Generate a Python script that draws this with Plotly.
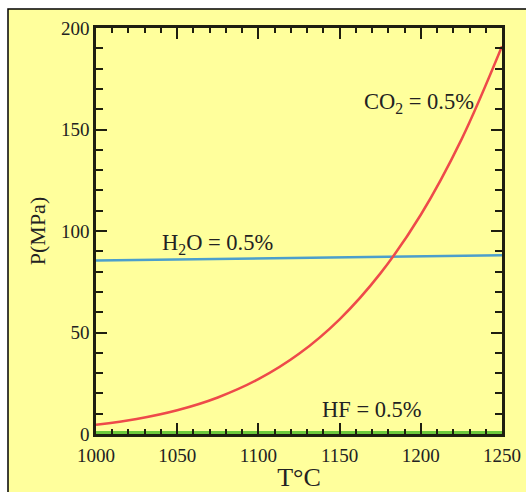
import plotly.graph_objects as go

# Data
temps = [1000, 1025, 1050, 1075, 1100, 1125, 1150, 1175, 1200, 1225, 1250]
co2_p = [4.5, 7.4, 11.7, 18, 27, 39.5, 56.5, 79, 108, 145, 191]
h2o_t = [1000, 1250]
h2o_p = [85.5, 88]
hf_t = [1000, 1250]
hf_p = [0.8, 0.8]

x_ticks = [1000, 1050, 1100, 1150, 1200, 1250]
y_ticks = [0, 50, 100, 150, 200]

labels = ["CO<sub>2</sub> = 0.5%", "H<sub>2</sub>O = 0.5%", "HF = 0.5%"]
label_x = [1199, 1075, 1170]
label_y = [163, 93.5, 12]

YELLOW = "#FFFF9C"
AXC = "#1E1E10"
FONT = "Liberation Serif"

fig = go.Figure()
fig.add_trace(go.Scatter(x=hf_t, y=hf_p, mode="lines",
                         line=dict(color="#6CC83C", width=3), showlegend=False))
fig.add_trace(go.Scatter(x=h2o_t, y=h2o_p, mode="lines",
                         line=dict(color="#4C9FCC", width=2.5), showlegend=False))
fig.add_trace(go.Scatter(x=temps, y=co2_p, mode="lines", line_shape="spline",
                         line=dict(color="#EE4A4A", width=2.5), showlegend=False))

for t, xx, yy in zip(labels, label_x, label_y):
    fig.add_annotation(x=xx, y=yy, text=t, showarrow=False,
                       font=dict(family=FONT, size=22.5, color="#222"))

# yellow panel with black border
fig.add_shape(type="rect", xref="paper", yref="paper",
              x0=(8 - 96) / 406, x1=(540 - 96) / 406,
              y0=(434 - 510) / 406, y1=(434 - 9) / 406,
              fillcolor=YELLOW, line=dict(color="black", width=1.5), layer="below")

axis_common = dict(showgrid=False, zeroline=False, showline=True, linecolor=AXC,
                   linewidth=2.5, mirror="allticks", ticks="inside", ticklen=11,
                   tickwidth=2, tickcolor=AXC, automargin=False,
                   tickfont=dict(family=FONT, size=19, color="#222"))

fig.update_xaxes(range=[1000, 1250], tickvals=x_ticks, ticklabelstandoff=2,
                 minor=dict(dtick=10, ticks="inside", ticklen=5, tickwidth=2, tickcolor=AXC),
                 title=dict(text="T°C", font=dict(family=FONT, size=26, color="#222"), standoff=8),
                 **axis_common)
fig.update_yaxes(range=[0, 200], tickvals=y_ticks,
                 minor=dict(dtick=10, ticks="inside", ticklen=7, tickwidth=2, tickcolor=AXC),
                 title=dict(text="P(MPa)", font=dict(family=FONT, size=22, color="#222"), standoff=10),
                 **axis_common)

fig.update_layout(width=526, height=492,
                  margin=dict(l=96, r=24, t=28, b=58),
                  paper_bgcolor="white", plot_bgcolor=YELLOW)

fig.write_html("out.html")
